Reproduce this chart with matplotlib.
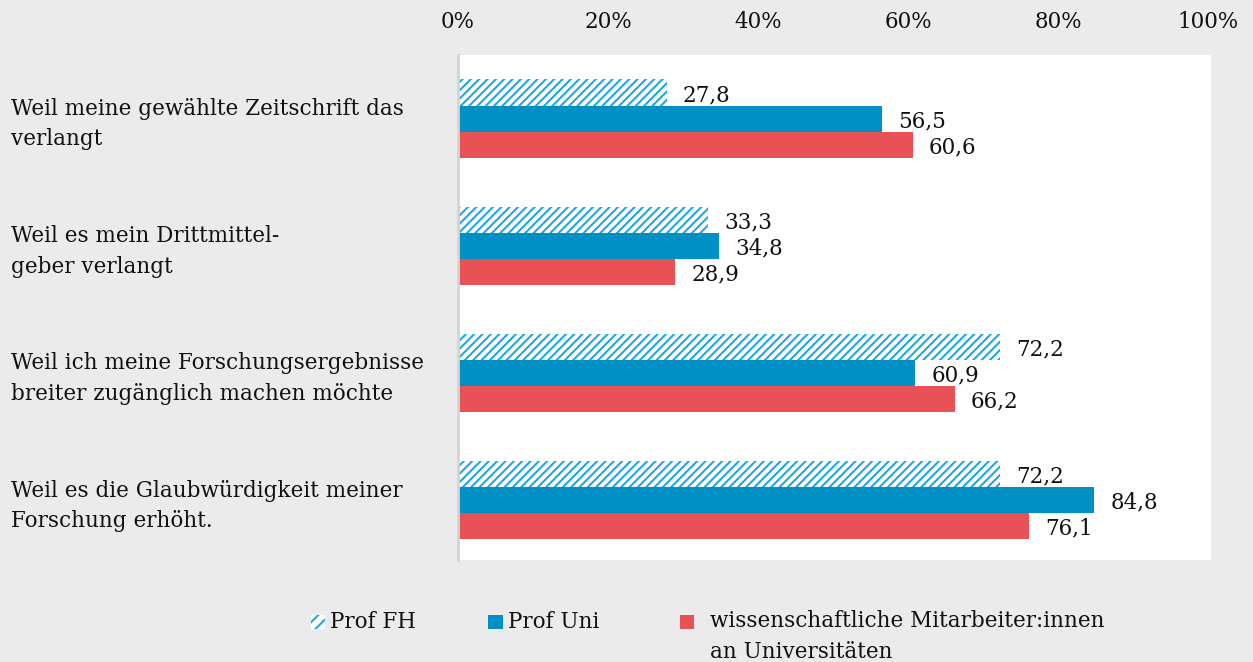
import numpy as np
import matplotlib
matplotlib.use("Agg")
import matplotlib.pyplot as plt
from matplotlib.patches import Rectangle

plt.rcParams['font.family'] = ['DejaVu Serif']
plt.rcParams['hatch.linewidth'] = 1.5

# data
categories = ["Weil meine gewählte Zeitschrift das\nverlangt",
              "Weil es mein Drittmittel-\ngeber verlangt",
              "Weil ich meine Forschungsergebnisse\nbreiter zugänglich machen möchte",
              "Weil es die Glaubwürdigkeit meiner\nForschung erhöht."]
prof_fh = [27.8, 33.3, 72.2, 72.2]
prof_uni = [56.5, 34.8, 60.9, 84.8]
wimi = [60.6, 28.9, 66.2, 76.1]
series_names = ["Prof FH", "Prof Uni", "wissenschaftliche Mitarbeiter:innen\nan Universitäten"]
xticks = [0, 20, 40, 60, 80, 100]

blue = "#0090c4"
hatch_blue = "#22a6de"
red = "#e85156"
bg = "#ebebeb"
txt = "#111111"
fs = 15.5

fig = plt.figure(figsize=(12.53, 6.62), dpi=100)
fig.patch.set_facecolor(bg)
W, H = 1253, 662
ax = fig.add_axes([458 / W, 1 - 560 / H, 753 / W, 505 / H])
ax.set_facecolor("white")

y = np.arange(len(categories))
h = 0.205
ax.barh(y - h, prof_fh, height=h, facecolor="white", edgecolor=hatch_blue, hatch="////", linewidth=0)
ax.barh(y, prof_uni, height=h, color=blue, edgecolor="none")
ax.barh(y + h, wimi, height=h, color=red, edgecolor="none")

for off, vals in [(-h, prof_fh), (0, prof_uni), (h, wimi)]:
    for yi, v in zip(y, vals):
        ax.text(v + 2.2, yi + off + 0.02, f"{v:.1f}".replace(".", ","), va="center", ha="left",
                fontsize=fs, color=txt)

ax.set_xlim(0, 100.4)
ax.set_ylim(3.47, -0.5)
ax.xaxis.tick_top()
ax.set_xticks(xticks)
ax.set_xticklabels([f"{t}%" for t in xticks], fontsize=fs, color=txt)
ax.tick_params(axis="x", length=0, pad=16)
ax.set_yticks([])
for s in ["top", "right", "bottom"]:
    ax.spines[s].set_visible(False)
ax.spines["left"].set_color("#d4d4d4")
ax.spines["left"].set_linewidth(2)

for yi, c in zip(y, categories):
    yc = 1 - (124 + yi * 127.3) / H
    fig.text(11 / W, yc, c, ha="left", va="center", fontsize=fs, color=txt, linespacing=1.5)

# legend
ly = 1 - 622 / H
sq = 14
fig.patches.append(Rectangle((311 / W, ly - sq / 2 / H), sq / W, sq / H, transform=fig.transFigure,
                             facecolor="white", edgecolor=hatch_blue, hatch="///", linewidth=0))
fig.text(330 / W, ly, series_names[0], ha="left", va="center", fontsize=fs, color=txt)
fig.patches.append(Rectangle((488 / W, ly - sq / 2 / H), 15 / W, sq / H, transform=fig.transFigure,
                             facecolor=blue, edgecolor="none"))
fig.text(508 / W, ly, series_names[1], ha="left", va="center", fontsize=fs, color=txt)
fig.patches.append(Rectangle((680 / W, ly - sq / 2 / H), 14 / W, sq / H, transform=fig.transFigure,
                             facecolor=red, edgecolor="none"))
fig.text(710 / W, ly + 12 / H, series_names[2], ha="left", va="top", fontsize=fs, color=txt,
         linespacing=1.5)

fig.savefig("out.png", dpi=100, facecolor=bg)
